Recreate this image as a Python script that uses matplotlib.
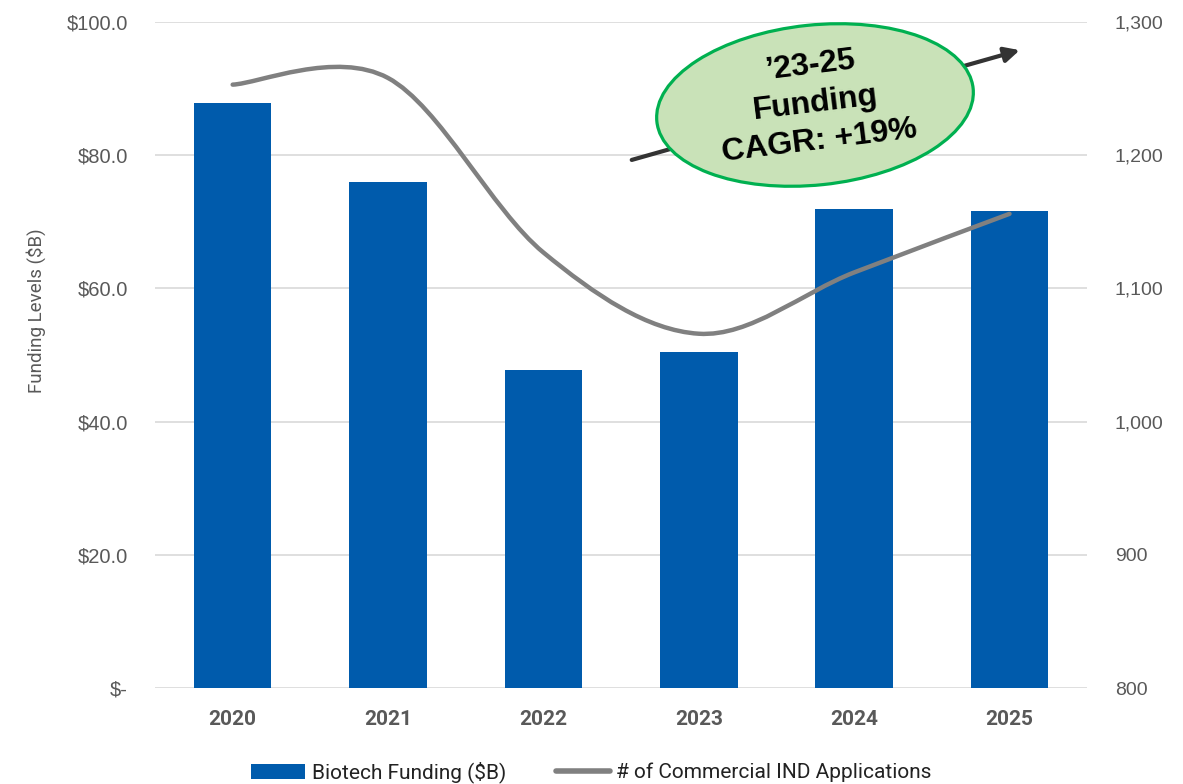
import numpy as np
import matplotlib
matplotlib.use("Agg")
import matplotlib.pyplot as plt
from matplotlib.path import Path
from matplotlib.patches import PathPatch, Ellipse, Patch
from matplotlib.lines import Line2D
from matplotlib.ticker import FuncFormatter, MultipleLocator

years = ["2020", "2021", "2022", "2023", "2024", "2025"]
funding = [87.8, 76.0, 47.7, 50.4, 71.9, 71.6]
ind_apps = [1253, 1258, 1127, 1066, 1112, 1156]

BLUE = "#005BAC"
GREY_LINE = "#808080"
TICK_GREY = "#595959"
GRID_GREY = "#D9D9D9"
NARROW = ["Roboto", "DejaVu Sans"]
ARIAL = ["Liberation Sans", "DejaVu Sans"]

plt.rcParams["font.family"] = ARIAL


def smooth_path(xs, ys):
    # Bezier curve through every point, like a spreadsheet "smoothed line"
    pts = np.column_stack([xs, ys]).astype(float)
    n = len(pts)
    verts = [pts[0]]
    codes = [Path.MOVETO]
    for i in range(n - 1):
        p_prev = pts[max(i - 1, 0)]
        p0, p1 = pts[i], pts[i + 1]
        p_next = pts[min(i + 2, n - 1)]
        c1 = p0 + (p1 - p_prev) / 6.0
        c2 = p1 - (p_next - p0) / 6.0
        verts += [c1, c2, p1]
        codes += [Path.CURVE4] * 3
    return Path(verts, codes)


fig = plt.figure(figsize=(11.83, 7.84), dpi=100)
ax = fig.add_axes([0.131, 0.1224, 0.788, 0.8495])
ax2 = ax.twinx()

x = np.arange(len(years))
ax.bar(x, funding, width=0.5, color=BLUE, zorder=2)
ax.set_ylim(0, 100)
ax.set_xlim(-0.5, len(years) - 0.5)
ax.yaxis.set_major_locator(MultipleLocator(20))
ax.yaxis.set_major_formatter(FuncFormatter(lambda v, p: "$-" if v == 0 else f"${v:.1f}"))
ax.grid(axis="y", color=GRID_GREY, lw=1.2, zorder=0)
ax.set_axisbelow(True)

ax.set_xticks(x)
ax.set_xticklabels(years, fontsize=15, fontweight="bold", color=TICK_GREY, family=NARROW)
ax.tick_params(axis="x", length=0, pad=16)
ax.tick_params(axis="y", length=0, pad=19.5, labelsize=14.5, labelcolor=TICK_GREY)

ax.set_ylabel("Funding Levels ($B)", fontsize=13.5, color=TICK_GREY, family=NARROW)
ax.yaxis.set_label_coords(-0.117, 0.566)

ax2.set_ylim(800, 1300)
ax2.yaxis.set_major_locator(MultipleLocator(100))
ax2.yaxis.set_major_formatter(FuncFormatter(lambda v, p: f"{v:,.0f}"))
ax2.tick_params(axis="y", length=0, pad=20, labelsize=14, labelcolor=TICK_GREY)
ax2.add_patch(PathPatch(smooth_path(x, ind_apps), fill=False, edgecolor=GREY_LINE,
                        lw=3.2, capstyle="round", zorder=3))

for a in (ax, ax2):
    for s in a.spines.values():
        s.set_visible(False)

# CAGR callout: trend arrow behind a green ellipse
ax.annotate("", xy=(0.862, 0.936), xytext=(0.534, 0.796),
            xycoords="figure fraction", textcoords="figure fraction",
            arrowprops=dict(arrowstyle="-|>,head_length=0.9,head_width=0.45",
                            color="#333333", lw=3, shrinkA=0, shrinkB=0,
                            capstyle="round"), zorder=5)
fig.patches.append(Ellipse((8.15, 6.79), 3.18, 1.6, angle=6,
                           facecolor="#C9E2B8", edgecolor="#00B050", lw=2.3,
                           transform=fig.dpi_scale_trans, zorder=6))
fig.text(0.689, 0.868, "\u201923-25\nFunding\nCAGR: +19%", ha="center", va="center",
         rotation=7, fontsize=23, fontweight="bold", family=ARIAL,
         linespacing=1.36, zorder=7, rotation_mode="anchor")

handles = [Patch(facecolor=BLUE, edgecolor="none"),
           Line2D([], [], color=GREY_LINE, lw=4, solid_capstyle="round")]
fig.legend(handles, ["Biotech Funding ($B)", "# of Commercial IND Applications"],
           loc="center", bbox_to_anchor=(0.5, 0.015), ncol=2, frameon=False,
           prop={"family": NARROW, "size": 15}, handlelength=2.6, handleheight=0.75,
           handletextpad=0.3, columnspacing=2.4, labelcolor="#222222")

fig.savefig("out.png", dpi=100)
